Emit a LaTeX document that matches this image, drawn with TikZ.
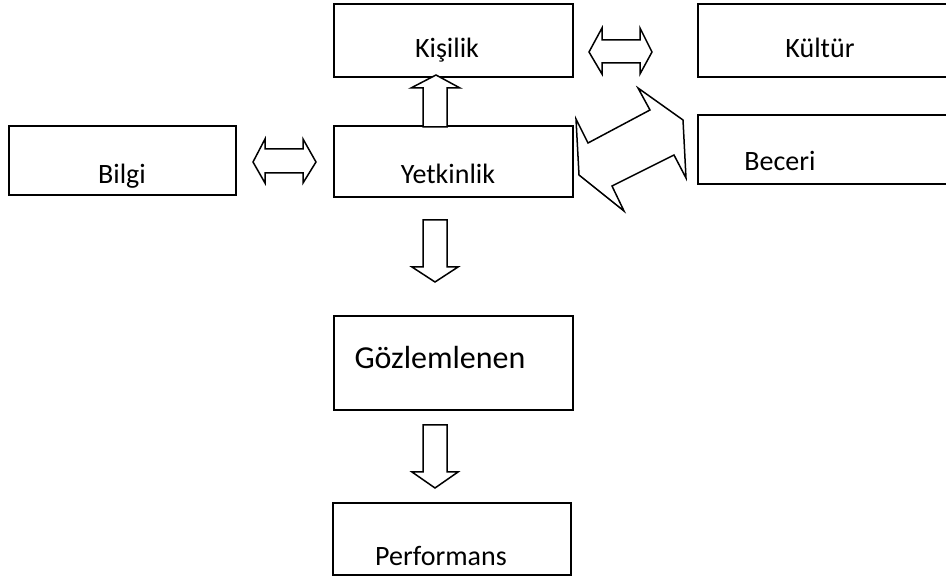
\documentclass[tikz,border=0pt]{standalone}
\usepackage{fontspec}
\setmainfont{Carlito}
\begin{document}
\begin{tikzpicture}[x=1pt,y=-1pt,
  box/.style={draw,line width=2pt,inner sep=0pt,outer sep=0pt,fill=white},
  label/.style={anchor=base,inner sep=0pt,font=\fontsize{28}{32}\selectfont},
  biglabel/.style={anchor=base,inner sep=0pt,font=\fontsize{32}{38}\selectfont},
  blockarrow/.style={draw,line width=1.5pt,line join=miter,fill=white}]
\useasboundingbox (0,0) rectangle (946,577);

% boxes
\node[box,minimum width=239pt,minimum height=73pt] (kisilik) at (453.5,40.5) {};
\node[box,minimum width=250pt,minimum height=73pt] (kultur) at (823,40.5) {};
\node[box,minimum width=227pt,minimum height=69pt] (bilgi) at (122.5,160.5) {};
\node[box,minimum width=239pt,minimum height=71pt] (yetkinlik) at (453.5,161.5) {};
\node[box,minimum width=250pt,minimum height=69pt] (beceri) at (823,149.5) {};
\node[box,minimum width=239pt,minimum height=94pt] (gozlem) at (453.5,363) {};
\node[box,minimum width=238pt,minimum height=72pt] (perf) at (452,539) {};

% labels
\node[label] (tkisilik) at (447,58) {Kişilik};
\node[label] (tkultur) at (820,58) {Kültür};
\node[label] (tbilgi) at (122,184) {Bilgi};
\node[label] (tyetkinlik) at (448,184) {Yetkinlik};
\node[label] (tbeceri) at (780,171) {Beceri};
\node[biglabel] (tgozlem) at (440,369) {Gözlemlenen};
\node[label] (tperf) at (441,565) {Performans};

% Kişilik <-> Kültür
\draw[blockarrow] (589,52) -- (602,28) -- (602,40) -- (640,40) -- (640,28) -- (652,52)
  -- (640,74) -- (640,63) -- (602,63) -- (602,74) -- cycle;
% Bilgi <-> Yetkinlik
\draw[blockarrow] (253,162) -- (265,139) -- (265,149) -- (303,149) -- (303,139) -- (316,162)
  -- (303,183) -- (303,173) -- (265,173) -- (265,183) -- cycle;
% Yetkinlik -> Kişilik
\draw[blockarrow] (436,75) -- (460,88) -- (447,88) -- (447,127) -- (423,127) -- (423,88)
  -- (411,88) -- cycle;
% Yetkinlik -> Gözlemlenen
\draw[blockarrow] (423,220) -- (447,220) -- (447,267) -- (458,267) -- (435,282) -- (412,267)
  -- (423,267) -- cycle;
% Gözlemlenen -> Performans
\draw[blockarrow] (423,425) -- (447,425) -- (447,472) -- (458,472) -- (435,488) -- (412,472)
  -- (423,472) -- cycle;
% Yetkinlik <-> Kültür / Beceri (skewed double arrow)
\draw[blockarrow] (638,88) -- (650,110) -- (588,143) -- (576,119) -- (579,175) -- (624,211)
  -- (612,186) -- (674,155) -- (686,178) -- (683,120) -- cycle;
\end{tikzpicture}
\end{document}
